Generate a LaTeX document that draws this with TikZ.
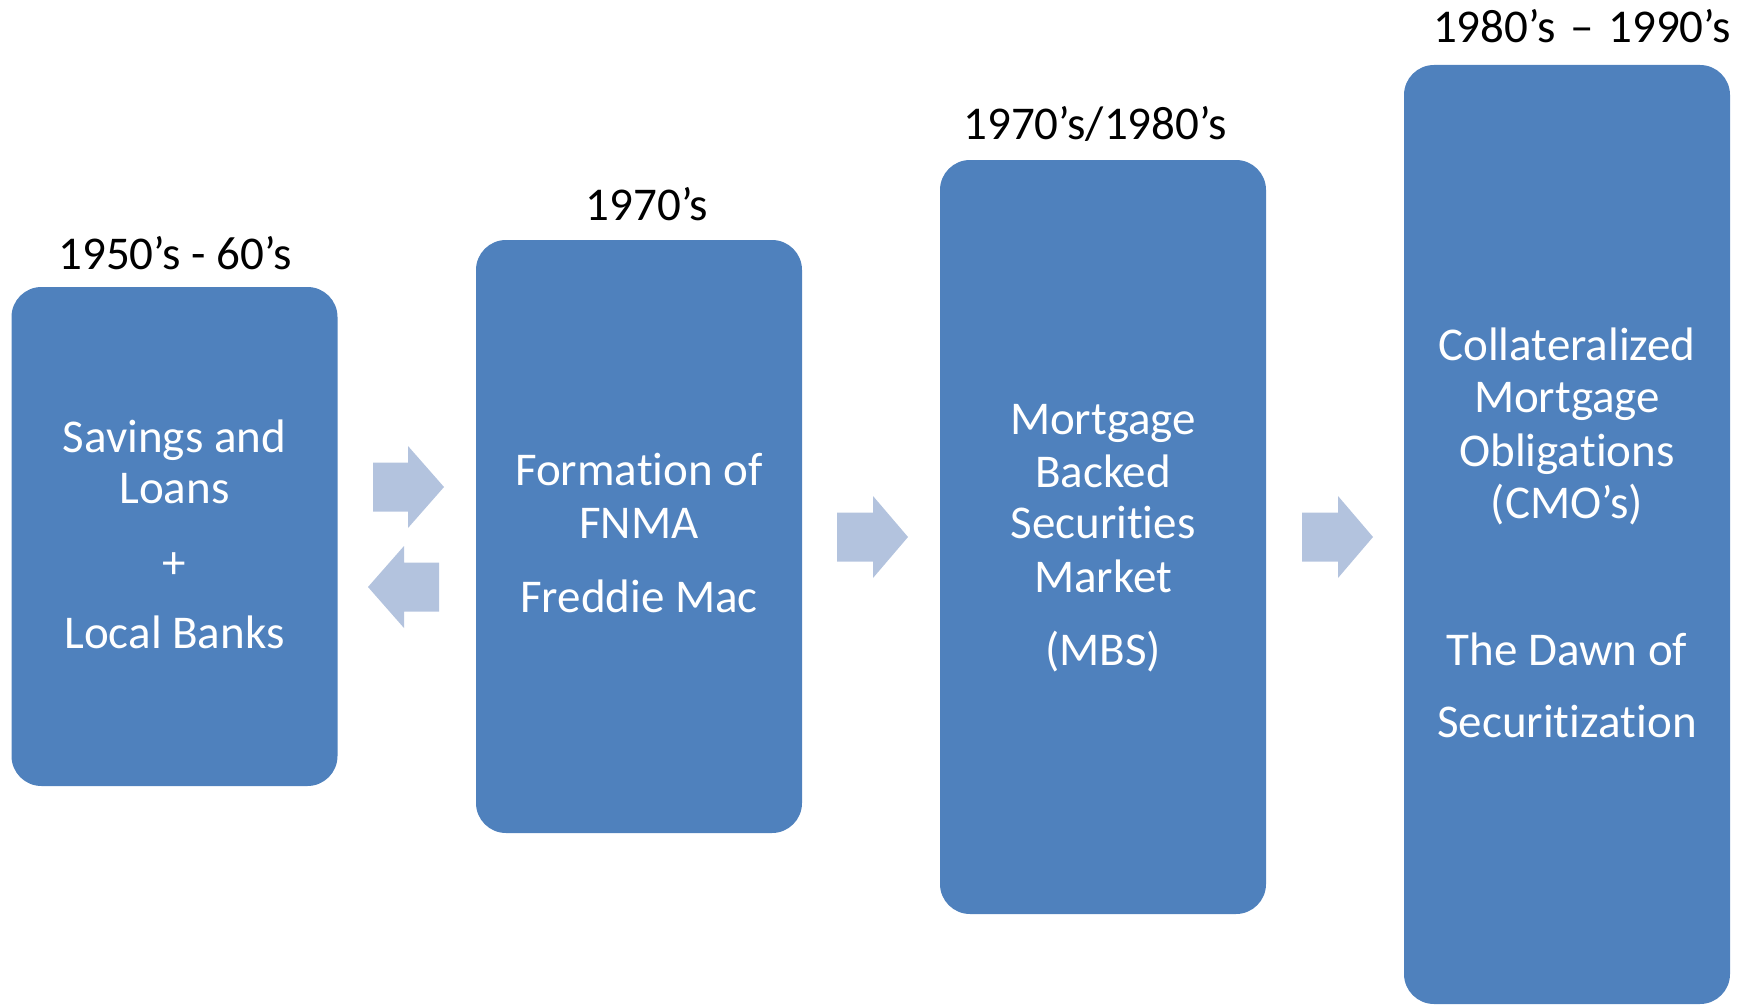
\documentclass[tikz,border=0pt]{standalone}
\usepackage{fontspec}
\setmainfont{Carlito}[Ligatures={NoCommon,NoRare,NoContextual}]
\definecolor{boxblue}{RGB}{79,129,189}
\definecolor{arrowblue}{RGB}{179,195,222}
\newcommand{\tletter}{\mbox{t}}
\tikzset{
  stagebox/.style={fill=boxblue, draw=none, rounded corners=30pt, inner sep=0pt, minimum width=326pt},
  boxtext/.style={text=white, anchor=base, inner sep=0pt, font=\fontsize{47}{52}\selectfont},
  datelabel/.style={text=black, anchor=base, inner sep=0pt, font=\fontsize{47}{52}\selectfont},
  blockarrow/.style={fill=arrowblue, draw=none}
}
\begin{document}
\begin{tikzpicture}[x=1pt,y=-1pt]
\useasboundingbox (0,0) rectangle (1748,1006);
% boxes
\node[stagebox, minimum height=499pt] (b1) at (174.5,536.5) {};
\node[stagebox, minimum height=593pt] (b2) at (639,536.5) {};
\node[stagebox, minimum height=754pt] (b3) at (1103,537) {};
\node[stagebox, minimum height=939pt] (b4) at (1567,534.5) {};
% date labels
\node[datelabel] (l1) at (175,269) {1950’s - 60’s};
\node[datelabel] (l2) at (647,220) {1970’s};
\node[datelabel] (l3) at (1095,140) {1970’s/1980’s};
\node[datelabel] (l4) at (1582,43) {1980’s \kern4pt–\kern4pt\ 1990’s};
% box 1 text
\node[boxtext] (t1a) at (174.5,452) {Savings and};
\node[boxtext] (t1b) at (174.5,503) {Loans};
\node[boxtext] (t1c) at (174.5,578) {+};
\node[boxtext] (t1d) at (174.5,648) {Local Banks};
% box 2 text
\node[boxtext] (t2a) at (639,485) {Formation of};
\node[boxtext] (t2b) at (639,538) {FNMA};
\node[boxtext] (t2c) at (639,612) {Freddie Mac};
% box 3 text
\node[boxtext] (t3a) at (1103,434) {Mortgage};
\node[boxtext] (t3b) at (1103,487) {Backed};
\node[boxtext] (t3c) at (1103,538) {Securi\tletter ies};
\node[boxtext] (t3d) at (1103,592) {Market};
\node[boxtext] (t3e) at (1103,665) {(MBS)};
% box 4 text
\node[boxtext] (t4a) at (1567,360) {Collateralized};
\node[boxtext] (t4b) at (1567,412) {Mortgage};
\node[boxtext] (t4c) at (1567,466) {Obliga\tletter ions};
\node[boxtext] (t4d) at (1567,518) {(CMO’s)};
\node[boxtext] (t4e) at (1567,665) {The Dawn of};
\node[boxtext] (t4f) at (1567,737) {Securi\tletter iza\tletter ion};
% block arrows
\fill[blockarrow] (373,462.5) -- (408,462.5) -- (408,446) -- (444,487) -- (408,528) -- (408,511.5) -- (373,511.5) -- cycle;
\fill[blockarrow] (439,562.5) -- (404,562.5) -- (404,546) -- (368,587) -- (404,628) -- (404,611.5) -- (439,611.5) -- cycle;
\fill[blockarrow] (837,512.5) -- (873,512.5) -- (873,496) -- (908,537) -- (873,578) -- (873,561.5) -- (837,561.5) -- cycle;
\fill[blockarrow] (1302,512.5) -- (1338,512.5) -- (1338,496) -- (1373,537) -- (1338,578) -- (1338,561.5) -- (1302,561.5) -- cycle;
\end{tikzpicture}
\end{document}
